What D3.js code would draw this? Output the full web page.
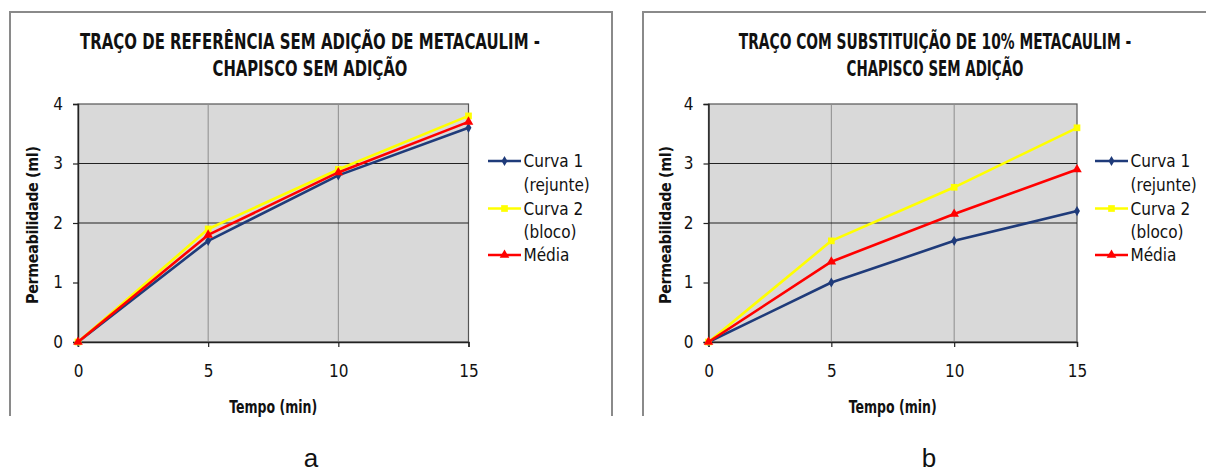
<!DOCTYPE html>
<html>
<head>
<meta charset="utf-8">
<script src="https://cdn.jsdelivr.net/npm/d3@7"></script>
<style>
  body { margin: 0; background: #fff; }
  svg { display: block; }
  text { font-family: "Liberation Sans Narrow", "DejaVu Sans Condensed", "Open Sans", sans-serif; fill: #111; }
</style>
</head>
<body>
<svg id="chart" width="1206" height="472"></svg>
<script>
// data
var tempo = [0, 5, 10, 15];
var yTickValues = [0, 1, 2, 3, 4];
var hGridValues = [2, 3];
var vGridValues = [5, 10];

var curva1A = [0, 1.7, 2.8, 3.6];
var curva2A = [0, 1.9, 2.9, 3.8];
var mediaA  = [0, 1.8, 2.85, 3.7];

var curva1B = [0, 1.0, 1.7, 2.2];
var curva2B = [0, 1.7, 2.6, 3.6];
var mediaB  = [0, 1.35, 2.15, 2.9];

var legendLabels = [["Curva 1", "(rejunte)"], ["Curva 2", "(bloco)"], ["Média"]];
var titleA = ["TRAÇO DE REFERÊNCIA SEM ADIÇÃO DE METACAULIM -", "CHAPISCO SEM ADIÇÃO"];
var titleB = ["TRAÇO COM SUBSTITUIÇÃO DE 10% METACAULIM -", "CHAPISCO SEM ADIÇÃO"];

var colors = ["#1f3b7a", "#ffff00", "#ff0000"];
var markers = [d3.symbolDiamond, d3.symbolSquare, d3.symbolTriangle];
var markerSizes = [30, 45, 40];

var svg = d3.select("#chart");

// squeeze a centred text horizontally to a given width
function fitText(sel, cx, cy, w) {
  var n = sel.node().getComputedTextLength();
  sel.attr("x", 0).attr("y", 0)
    .attr("transform", "translate(" + cx + "," + cy + ") scale(" + (w / n) + ",1)");
}

function panel(opts) {
  var g = svg.append("g");

  // frame of the chart object
  g.append("path")
    .attr("d", "M" + opts.frame[0] + ",416V" + opts.frame[1] + "H" + opts.frame[2] + (opts.frame[3] ? "V416" : ""))
    .attr("fill", "none")
    .attr("stroke", "#8a8a8a")
    .attr("stroke-width", 2);

  var x = d3.scaleLinear().domain([0, 15]).range(opts.xr);
  var y = d3.scaleLinear().domain([0, 4]).range([342, 104]);

  g.append("rect")
    .attr("x", opts.xr[0]).attr("y", y(4))
    .attr("width", opts.xr[1] - opts.xr[0]).attr("height", y(0) - y(4))
    .attr("fill", "#d9d9d9")
    .attr("stroke", "#555").attr("stroke-width", 1.2);

  g.selectAll(".vg").data(vGridValues).enter().append("line")
    .attr("x1", function(d) { return x(d); }).attr("x2", function(d) { return x(d); })
    .attr("y1", y(0)).attr("y2", y(4))
    .attr("stroke", "#8c8c8c").attr("stroke-width", 1);

  g.selectAll(".hg").data(hGridValues).enter().append("line")
    .attr("x1", opts.xr[0]).attr("x2", opts.xr[1])
    .attr("y1", function(d) { return y(d); }).attr("y2", function(d) { return y(d); })
    .attr("stroke", "#222").attr("stroke-width", 1.2);

  var yAxis = g.append("g")
    .attr("transform", "translate(" + opts.xr[0] + ",0)")
    .call(d3.axisLeft(y).tickValues(yTickValues).tickSize(5).tickPadding(10).tickFormat(d3.format("d")));
  var xAxis = g.append("g")
    .attr("transform", "translate(0," + y(0) + ")")
    .call(d3.axisBottom(x).tickValues(tempo).tickSize(5).tickPadding(18).tickFormat(d3.format("d")));
  [xAxis, yAxis].forEach(function(a) {
    a.select(".domain").attr("stroke", "#222").attr("stroke-width", 1.4);
    a.selectAll(".tick line").attr("stroke", "#222").attr("stroke-width", 1.2);
    a.selectAll(".tick text").style("font-size", "17px").attr("fill", "#111");
  });

  var line = d3.line()
    .x(function(d, i) { return x(tempo[i]); })
    .y(function(d) { return y(d); });

  opts.series.forEach(function(s, k) {
    g.append("path")
      .datum(s)
      .attr("d", line)
      .attr("fill", "none")
      .attr("stroke", colors[k])
      .attr("stroke-width", 2.6)
      .attr("stroke-linejoin", "round");
    g.selectAll(".m" + k).data(s).enter().append("path")
      .attr("transform", function(d, i) { return "translate(" + x(tempo[i]) + "," + y(d) + ")"; })
      .attr("d", d3.symbol().type(markers[k]).size(markerSizes[k]))
      .attr("fill", colors[k]);
  });

  // title
  opts.title.forEach(function(t, i) {
    var tt = g.append("text")
      .attr("text-anchor", "middle")
      .style("font-size", "21px").style("font-weight", "bold")
      .text(t);
    fitText(tt, opts.titleX, 49 + i * 27, opts.titleLen[i]);
  });

  var xt = g.append("text")
    .attr("text-anchor", "middle")
    .style("font-size", "17px").style("font-weight", "bold")
    .text("Tempo (min)");
  fitText(xt, (opts.xr[0] + opts.xr[1]) / 2, 413, 88);

  g.append("text")
    .attr("transform", "translate(" + opts.yTitleX + ",225) rotate(-90)")
    .attr("text-anchor", "middle")
    .attr("textLength", 158).attr("lengthAdjust", "spacing")
    .style("font-size", "16px").style("font-weight", "bold")
    .text("Permeabilidade (ml)");

  // legend
  var rowY = [161, 208.5, 255];
  legendLabels.forEach(function(lab, k) {
    var lg = g.append("g").attr("transform", "translate(" + opts.legX + "," + rowY[k] + ")");
    lg.append("line").attr("x1", 0).attr("x2", 33).attr("y1", 0).attr("y2", 0)
      .attr("stroke", colors[k]).attr("stroke-width", 2.6);
    lg.append("path").attr("transform", "translate(16.5,0)")
      .attr("d", d3.symbol().type(markers[k]).size(markerSizes[k]))
      .attr("fill", colors[k]);
    lab.forEach(function(t, j) {
      lg.append("text")
        .attr("x", 35.5).attr("y", 6 + j * 23.5)
        .style("font-size", "17px")
        .text(t);
    });
  });
}

panel({
  frame: [10, 12, 612, true],
  xr: [78, 468.5],
  series: [curva1A, curva2A, mediaA],
  title: titleA, titleX: 310, titleLen: [460, 195],
  yTitleX: 38, legX: 488
});

panel({
  frame: [643, 12, 1210, false],
  xr: [708.5, 1077],
  series: [curva1B, curva2B, mediaB],
  title: titleB, titleX: 935, titleLen: [393, 177],
  yTitleX: 671, legX: 1095
});

svg.append("text").attr("x", 311).attr("y", 467).attr("text-anchor", "middle")
  .style("font-family", "'Liberation Sans', Arial, sans-serif").style("font-size", "26px").text("a");
svg.append("text").attr("x", 929).attr("y", 467).attr("text-anchor", "middle")
  .style("font-family", "'Liberation Sans', Arial, sans-serif").style("font-size", "26px").text("b");
</script>
</body>
</html>
